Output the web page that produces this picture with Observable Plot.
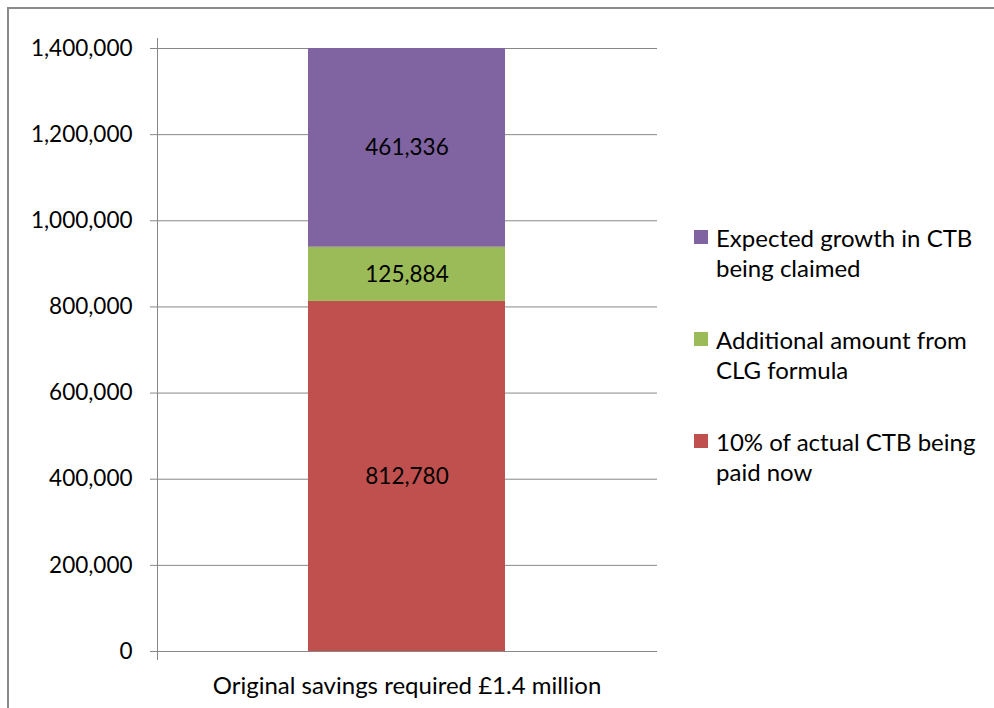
<!DOCTYPE html>
<html>
<head>
<meta charset="utf-8">
<script src="https://cdn.jsdelivr.net/npm/d3@7"></script>
<script src="https://cdn.jsdelivr.net/npm/@observablehq/plot@0.6"></script>
<style>
  html, body { margin: 0; padding: 0; background: #fff; }
  #wrap { position: relative; width: 994px; height: 708px; overflow: hidden; font-family: Lato, sans-serif; }
  #border { position: absolute; left: 7px; top: 7px; width: 990px; height: 710px; border-top: 2px solid #8a8a8a; border-left: 2px solid #8a8a8a; box-sizing: border-box; }
  #chart { position: absolute; left: 0; top: 0; }
  #legend { position: absolute; left: 694px; top: 223px; width: 298px; font-size: 24px; color: #000; }
  .item { display: flex; align-items: flex-start; margin-bottom: 42px; line-height: 30px; }
  .sw { width: 14px; height: 14px; flex: none; margin-top: 7px; margin-right: 8px; }
</style>
</head>
<body>
<div id="wrap">
  <div id="border"></div>
  <div id="chart"></div>
  <div id="legend"></div>
</div>
<script>
const categories = ["Original savings required £1.4 million"];
const series = ["10% of actual CTB being paid now", "Additional amount from CLG formula", "Expected growth in CTB being claimed"];
const values = [812780, 125884, 461336];
const colors = ["#C0504D", "#9BBB59", "#8064A2"];
const yTicks = [0, 200000, 400000, 600000, 800000, 1000000, 1200000, 1400000];

const data = series.map((s, i) => ({category: categories[0], series: s, value: values[i]}));
const fmt = d3.format(",");
const gray = "#878787";

const chart = Plot.plot({
  width: 680,
  height: 708,
  marginLeft: 157,
  marginRight: 23,
  marginTop: 48,
  marginBottom: 57,
  style: {fontFamily: "Lato, sans-serif", fontSize: "22.5px", color: "#000", background: "transparent"},
  x: {type: "band", domain: categories, padding: 0.4327, label: null},
  y: {domain: [0, 1400000], label: null},
  color: {domain: series, range: colors},
  marks: [
    Plot.gridY(yTicks, {stroke: gray, strokeOpacity: 1}),
    Plot.axisY(yTicks, {tickSize: 7, tickPadding: 18, stroke: gray, tickFormat: fmt, fill: "#000", label: null}),
    Plot.axisX({tickSize: 0, tickPadding: 25, fill: "#000", fontSize: 24, label: null}),
    Plot.barY(data, {x: "category", y: "value", fill: "series"}),
    Plot.ruleY([0], {stroke: gray}),
    Plot.frame({anchor: "left", stroke: gray, insetTop: -10, insetBottom: -8}),
    Plot.text(data, Plot.stackY({x: "category", y: "value", text: d => fmt(d.value), fontSize: 22.5, fill: "#000"}))
  ]
});
document.getElementById("chart").appendChild(chart);

const legend = document.getElementById("legend");
series.map((s, i) => ({s, c: colors[i]})).reverse().forEach(({s, c}) => {
  const item = document.createElement("div");
  item.className = "item";
  const sw = document.createElement("div");
  sw.className = "sw";
  sw.style.background = c;
  const t = document.createElement("div");
  t.textContent = s;
  item.appendChild(sw);
  item.appendChild(t);
  legend.appendChild(item);
});
</script>
</body>
</html>
